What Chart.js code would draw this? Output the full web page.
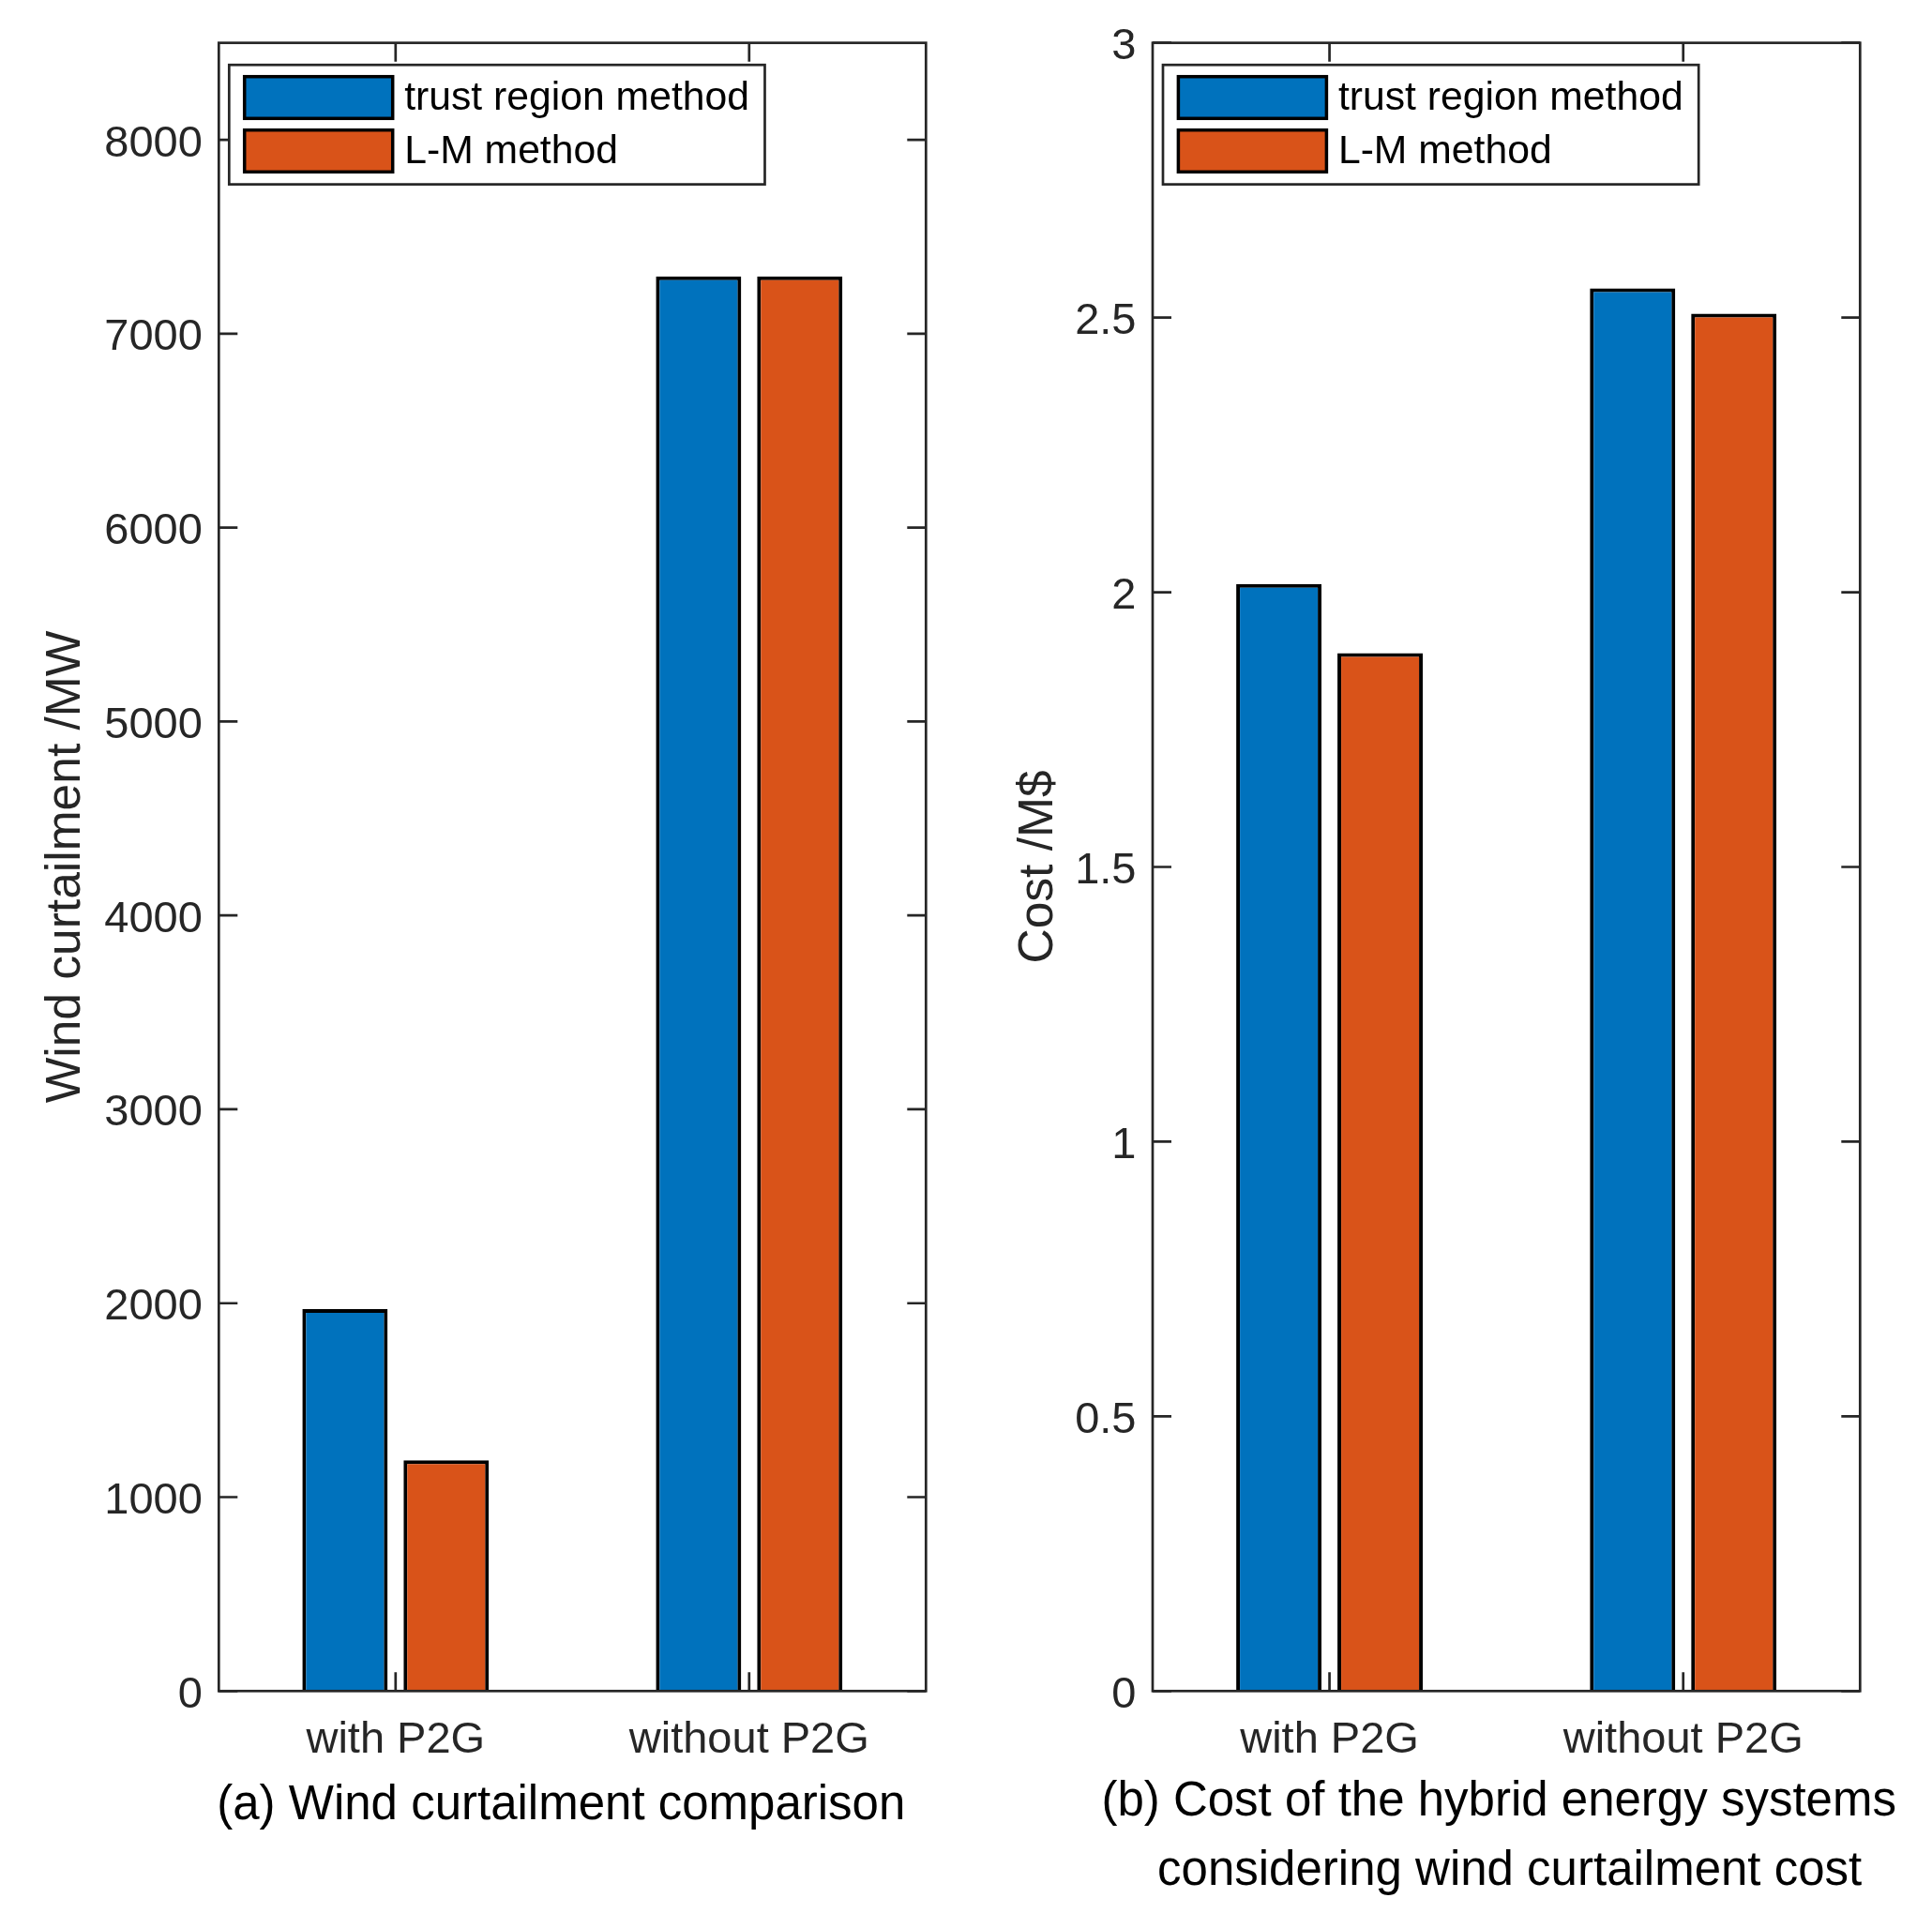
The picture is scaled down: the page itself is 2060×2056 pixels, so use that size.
<!DOCTYPE html>
<html>
<head>
<meta charset="utf-8">
<script src="https://cdn.jsdelivr.net/npm/chart.js@4"></script>
<style>
  html, body { margin: 0; padding: 0; background: #fff; }
  #wrap { position: relative; width: 2060px; height: 2056px; }
  canvas { position: absolute; top: 0; }
</style>
</head>
<body>
<div id="wrap">
  <canvas id="windChart" width="1030" height="2056" style="left:0"></canvas>
  <canvas id="costChart" width="1030" height="2056" style="left:1030px"></canvas>
</div>
<script>
    const categories = ['with P2G', 'without P2G'];
    const seriesNames = ['trust region method', 'L-M method'];
    const seriesColors = ['#0072BD', '#D95319'];

    // (a) wind curtailment, MW
    const windTrust = [1970, 7295];
    const windLM = [1190, 7295];
    const windTicks = [0, 1000, 2000, 3000, 4000, 5000, 6000, 7000, 8000];
    const windCaption = ['(a) Wind curtailment comparison'];

    // (b) cost, M$
    const costTrust = [2.015, 2.553];
    const costLM = [1.889, 2.507];
    const costTicks = [0, 0.5, 1, 1.5, 2, 2.5, 3];
    const costCaption = ['(b) Cost of the hybrid energy systems', 'considering wind curtailment cost'];

    const FONT = "'Liberation Sans', Arial, Helvetica, sans-serif";
    const AXIS_GRAY = '#262626';

    // box around the axes with inward ticks, matlab style
    const framePlugin = {
        id: 'frame',
        afterDatasetsDraw(chart) {
            const { ctx, chartArea: a, scales: { x, y } } = chart;
            const len = 20;
            ctx.save();
            ctx.strokeStyle = AXIS_GRAY;
            ctx.lineWidth = 2.7;
            ctx.beginPath();
            y.ticks.forEach(t => {
                const py = y.getPixelForValue(t.value);
                ctx.moveTo(a.left, py); ctx.lineTo(a.left + len, py);
                ctx.moveTo(a.right, py); ctx.lineTo(a.right - len, py);
            });
            x.ticks.forEach((t, i) => {
                const px = x.getPixelForTick(i);
                ctx.moveTo(px, a.bottom); ctx.lineTo(px, a.bottom - len);
                ctx.moveTo(px, a.top); ctx.lineTo(px, a.top + len);
            });
            ctx.stroke();
            ctx.strokeRect(a.left, a.top, a.right - a.left, a.bottom - a.top);
            ctx.restore();
        }
    };

    // legend drawn inside the axes with a border
    const boxLegend = {
        id: 'boxLegend',
        afterDraw(chart) {
            const { ctx, chartArea: a } = chart;
            const sets = chart.data.datasets;
            ctx.save();
            ctx.font = '42.7px ' + FONT;
            const textW = Math.max(...sets.map(d => ctx.measureText(d.label).width));
            const bx = a.left + 11, by = a.top + 23.5;
            const swW = 158, swH = 44.6, pitch = 57;
            const bw = 16.4 + swW + 12.5 + textW + 16.5;
            const bh = 127.4;
            ctx.fillStyle = '#fff';
            ctx.fillRect(bx, by, bw, bh);
            ctx.lineWidth = 2.7;
            ctx.strokeStyle = AXIS_GRAY;
            ctx.strokeRect(bx, by, bw, bh);
            sets.forEach((d, i) => {
                const sy = by + 12.5 + i * pitch;
                ctx.fillStyle = d.backgroundColor;
                ctx.fillRect(bx + 16.4, sy, swW, swH);
                ctx.lineWidth = 3.5;
                ctx.strokeStyle = '#000';
                ctx.strokeRect(bx + 16.4, sy, swW, swH);
                ctx.fillStyle = '#000';
                ctx.textBaseline = 'middle';
                ctx.textAlign = 'left';
                ctx.fillText(d.label, bx + 16.4 + swW + 12.5, sy + swH / 2 + 1);
            });
            ctx.restore();
        }
    };

    // caption below the x axis, not squeezed to the axis width
    const captionPlugin = {
        id: 'caption',
        afterDraw(chart, args, opts) {
            const { ctx, chartArea: a } = chart;
            const mid = (a.left + a.right) / 2;
            ctx.save();
            ctx.font = '51px ' + FONT;
            ctx.fillStyle = '#000';
            ctx.textAlign = 'center';
            ctx.textBaseline = 'middle';
            opts.lines.forEach((line, i) => {
                ctx.fillText(line, mid + opts.shift[i], a.bottom + opts.first + i * 73.5);
            });
            ctx.restore();
        }
    };

    function makeChart(id, dataA, dataB, ticks, yMax, yTitle, caption, shift, capFirst, yWidth, rightPad, yTitlePad) {
        const ctx = document.getElementById(id);
        return new Chart(ctx, {
            type: 'bar',
            data: {
                labels: categories,
                datasets: [
                    { label: seriesNames[0], data: dataA, backgroundColor: seriesColors[0] },
                    { label: seriesNames[1], data: dataB, backgroundColor: seriesColors[1] }
                ]
            },
            options: {
                responsive: false,
                devicePixelRatio: 1,
                animation: false,
                layout: { padding: { top: 41.6, right: rightPad, left: 0, bottom: 0 } },
                datasets: {
                    bar: {
                        borderColor: '#000',
                        borderWidth: 4,
                        borderSkipped: 'start',
                        categoryPercentage: 0.5725,
                        barPercentage: 0.843
                    }
                },
                scales: {
                    x: {
                        grid: { display: false, drawTicks: false },
                        border: { display: false },
                        ticks: {
                            color: AXIS_GRAY,
                            font: { family: FONT, size: 47 },
                            padding: 25,
                            maxRotation: 0
                        },
                        afterFit: s => { s.height = 2056 - 1803.3; }
                    },
                    y: {
                        min: 0,
                        max: yMax,
                        grid: { display: false, drawTicks: false },
                        border: { display: false },
                        afterBuildTicks: s => { s.ticks = ticks.map(v => ({ value: v })); },
                        ticks: {
                            color: AXIS_GRAY,
                            font: { family: FONT, size: 47 },
                            padding: 17.5,
                            labelOffset: 4.5,
                            callback: v => String(v)
                        },
                        title: {
                            display: true,
                            text: yTitle,
                            color: AXIS_GRAY,
                            font: { family: FONT, size: 51.5 },
                            padding: { top: yTitlePad, bottom: 0 }
                        },
                        afterFit: s => { s.width = yWidth; }
                    }
                },
                plugins: {
                    legend: { display: false },
                    tooltip: { enabled: false },
                    caption: { lines: caption, shift: shift, first: capFirst }
                }
            },
            plugins: [framePlugin, boxLegend, captionPlugin]
        });
    }

    makeChart('windChart', windTrust, windLM, windTicks, 8500,
        'Wind curtailment /MW', windCaption, [-12], 1925.6 - 1803.3,
        233.3, 1030 - 987.3, 40);

    makeChart('costChart', costTrust, costLM, costTicks, 3,
        'Cost /M$', costCaption, [-8, 3.5], 1922.3 - 1803.3,
        199, 1030 - 953.3, 46.4);
</script>
</body>
</html>
